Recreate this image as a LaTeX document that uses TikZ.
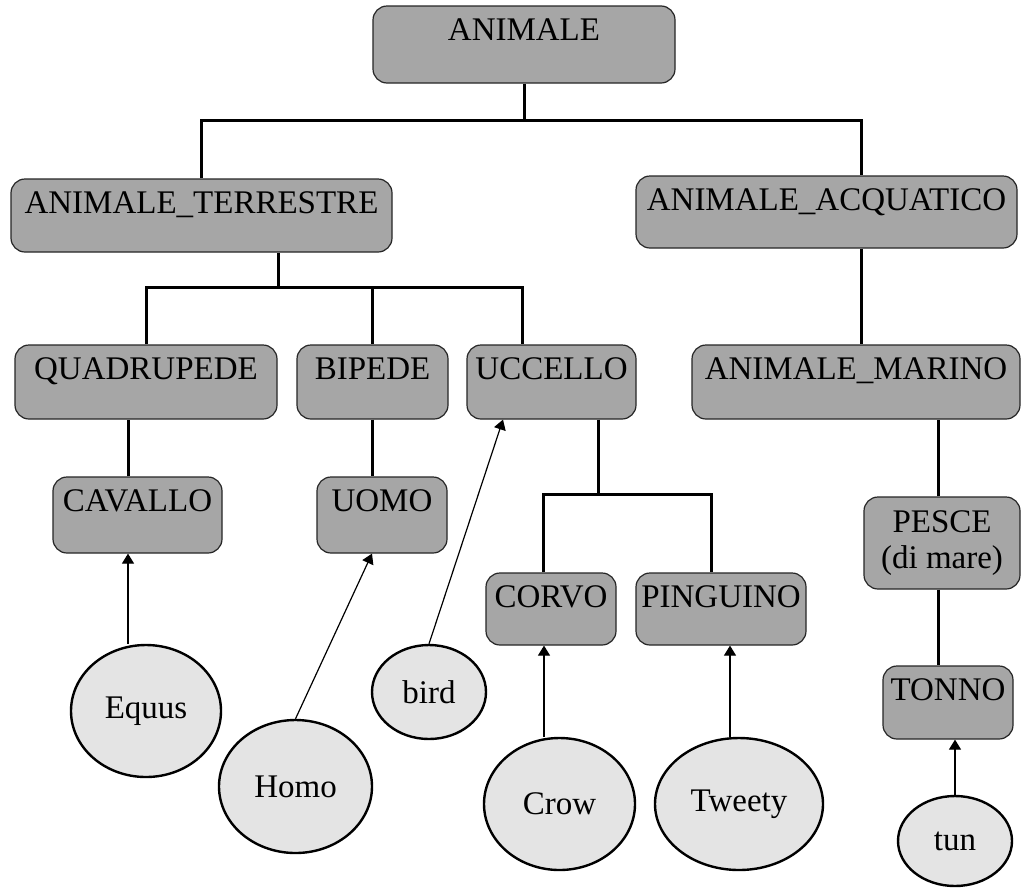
\documentclass[tikz,border=0pt]{standalone}
\usepackage{fontspec}
\setmainfont{Liberation Serif}
\usetikzlibrary{arrows.meta,calc,shapes.geometric}

\definecolor{conceptgray}{RGB}{166,166,166}
\definecolor{instgray}{RGB}{228,228,228}

\begin{document}
\begin{tikzpicture}[
            x=0.5pt, y=-0.5pt,
            font=\fontsize{16.5}{18}\selectfont,
            concept/.style={draw=black!85, line width=0.6pt, fill=conceptgray, rectangle, rounded corners=7pt, align=center, inner xsep=2pt, inner ysep=0pt},
            topbox/.style={concept, text height=17pt, text depth=#1},
            inst/.style={draw=black, line width=1.2pt, fill=instgray, ellipse, inner sep=0pt},
            isa/.style={line width=1.5pt, draw=black},
            flow/.style={-{Triangle[width=6pt,length=5pt]}, line width=0.6pt}
        ]

        \path[use as bounding box, fill=white] (0,0) rectangle (1021,889);

        % concepts
        \node[topbox=21.5pt, minimum width=151pt] (animale) at (524,44.5) {ANIMALE};
        \node[topbox=19.5pt, minimum width=190.5pt] (terr) at (201.5,215.5) {ANIMALE\_TERRESTRE};
        \node[topbox=19pt, minimum width=190.5pt] (acq) at (826.5,212) {ANIMALE\_ACQUATICO};
        \node[topbox=20pt, minimum width=131pt] (quad) at (146,382) {QUADRUPEDE};
        \node[topbox=20pt, minimum width=75.5pt] (biped) at (372.5,382) {BIPEDE};
        \node[topbox=20pt, minimum width=84.5pt] (uccello) at (551.5,382) {UCCELLO};
        \node[topbox=20pt, minimum width=164pt] (marino) at (856,382) {ANIMALE\_MARINO};
        \node[topbox=21pt, minimum width=84.5pt] (cavallo) at (137.5,515) {CAVALLO};
        \node[topbox=21pt, minimum width=65pt] (uomo) at (382,515) {UOMO};
        \node[topbox=19pt, minimum width=65pt] (corvo) at (551,609) {CORVO};
        \node[topbox=19pt, minimum width=85pt] (pinguino) at (721,609) {PINGUINO};
        \node[concept, minimum width=78pt, minimum height=46pt] (pesce) at (942,543) {PESCE\\(di mare)};
        \node[topbox=19.5pt, minimum width=65pt] (tonno) at (948,702.5) {TONNO};

        % instances
        \node[inst, minimum width=75pt, minimum height=66pt] (equus) at (146,711) {Equus};
        \node[inst, minimum width=76.5pt, minimum height=66.5pt] (homo) at (295.5,786.5) {Homo};
        \node[inst, minimum width=57pt, minimum height=47pt] (bird) at (429,692) {bird};
        \node[inst, minimum width=75.5pt, minimum height=66pt] (crow) at (559.5,804) {Crow};
        \node[inst, minimum width=84pt, minimum height=66pt] (tweety) at (739,804) {Tweety};
        \node[inst, minimum width=57pt, minimum height=45pt] (tun) at (955,841) {tun};

        % hierarchy
        \draw[isa] (animale.south) -- ++(0,37) coordinate (j1);
        \draw[isa] (terr.north) |- (j1) -| ($(acq.north)+(35,0)$);
        \draw[isa] ($(acq.south)+(35,0)$) coordinate (a1) -- (a1 |- marino.north);
        \draw[isa] ($(terr.south)+(76.5,0)$) -- ++(0,35) coordinate (j2);
        \draw[isa] (quad.north) |- (j2) -| ($(uccello.north)+(-29.5,0)$);
        \draw[isa] (j2 -| biped.north) -- (biped.north);
        \draw[isa] ($(cavallo.north)+(-9.5,0)$) coordinate (c1) -- (c1 |- quad.south);
        \draw[isa] (biped.south) -- (biped.south |- uomo.north);
        \draw[isa] ($(uccello.south)+(46.5,0)$) -- ++(0,75) coordinate (j3);
        \draw[isa] ($(corvo.north)+(-8,0)$) |- (j3) -| ($(pinguino.north)+(-10,0)$);
        \draw[isa] ($(pesce.north)+(-4,0)$) coordinate (p1) -- (p1 |- marino.south);
        \draw[isa] (p1 |- pesce.south) -- (p1 |- tonno.north);

        % instance links
        \draw[flow] (equus.north -| c1) -- (c1 |- cavallo.south);
        \draw[flow] (homo.north) -- ($(uomo.south)+(-10,0)$);
        \draw[flow] (bird.north) -- ($(uccello.south)+(-48.5,0)$);
        \draw[flow] ($(crow.north)+(-15.5,0)$) coordinate (k1) -- (k1 |- corvo.south);
        \draw[flow] ($(tweety.north)+(-9,0)$) coordinate (t1) -- (t1 |- pinguino.south);
        \draw[flow] (tun.north) -- (tun.north |- tonno.south);

    \end{tikzpicture}
\end{document}
